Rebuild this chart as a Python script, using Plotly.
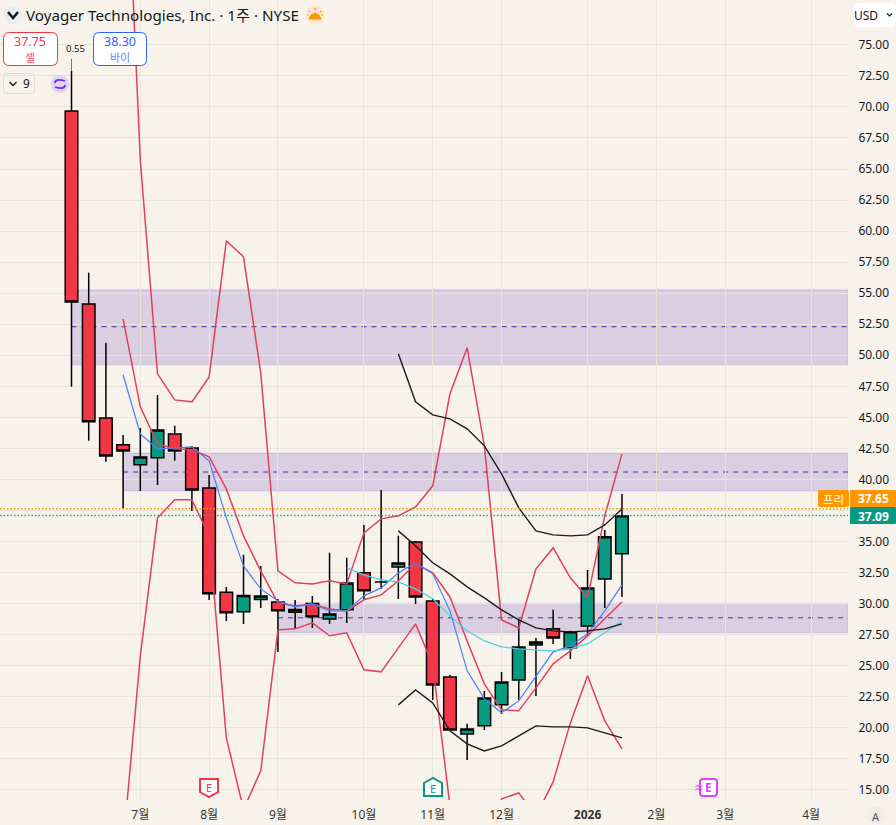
import plotly.graph_objects as go

# weekly candles, prices
weeks = list(range(33))
opens = [69.68, 54.14, 44.96, 42.79, 41.18, 41.74, 43.67, 42.54, 39.32, 30.91, 29.34,
         30.34, 30.14, 29.30, 30.02, 28.77, 29.50, 32.48, 31.75, 32.96, 34.97, 30.22,
         24.10, 19.51, 20.16, 21.85, 23.86, 26.68, 27.97, 26.44, 28.21, 31.99, 34.01]
highs = [72.90, 56.64, 51.00, 43.59, 44.15, 46.81, 44.32, 42.70, 40.37, 31.35, 33.93,
         33.04, 30.38, 30.30, 30.62, 34.09, 33.69, 36.34, 39.16, 35.46, 35.05, 30.38,
         24.26, 20.32, 22.97, 24.50, 28.77, 27.24, 29.50, 27.81, 32.72, 35.94, 38.84]
lows = [47.46, 43.11, 41.42, 37.63, 39.08, 39.56, 41.50, 37.47, 30.30, 28.61, 28.37,
        29.66, 26.11, 28.05, 28.05, 28.37, 28.45, 30.38, 31.19, 30.38, 29.98, 22.25,
        19.80, 17.42, 19.83, 21.12, 22.25, 22.57, 26.76, 25.55, 27.40, 29.66, 30.54]
closes = [54.30, 44.64, 41.90, 42.30, 41.82, 43.99, 42.30, 39.16, 30.79, 29.26, 30.66,
          30.62, 29.42, 29.54, 28.94, 29.17, 31.67, 31.03, 31.75, 33.28, 30.54, 23.46,
          19.83, 19.91, 22.41, 23.70, 26.52, 26.92, 27.24, 27.73, 31.27, 35.38, 37.07]

# indicator lines
red_upper = [97.06, 65.66, 48.51, 46.41, 46.25, 48.26, 59.22, 57.93, 48.59, 32.64, 31.68,
             31.59, 31.84, 31.59, 35.70, 36.83, 37.07, 37.79, 39.49, 46.90, 50.60, 42.71,
             28.69, 28.05, 32.80, 34.49, 32.08, 30.47, 37.07, 42.06]
red_lower = [10.50, 25.80, 36.91, 38.36, 38.36, 35.46, 19.19, 13.43, 16.54, 27.89, 27.97,
             28.45, 27.41, 27.65, 24.67, 24.51, 26.44, 28.37, 25.07, 13.72, 9.29, 11.70,
             14.28, 14.76, 12.91, 15.65, 20.40, 24.19, 20.56, 18.31]
red_mid = [52.93, 45.85, 42.87, 42.47, 42.39, 41.82, 39.24, 35.46, 32.64, 30.06, 29.82,
           29.98, 29.58, 29.42, 30.31, 30.71, 31.84, 33.21, 32.48, 30.54, 27.00, 23.54,
           21.45, 21.37, 23.22, 25.15, 26.20, 27.41, 28.78, 30.14]
blue_line = [48.43, 43.67, 42.47, 42.54, 42.63, 41.50, 36.91, 33.04, 31.19, 30.22, 29.74,
             29.98, 29.42, 29.42, 30.63, 31.27, 32.48, 33.29, 32.40, 29.42, 24.59, 22.33,
             21.21, 22.17, 24.19, 26.12, 26.60, 27.57, 29.42, 31.51]
cyan_line = [32.88, 32.32, 31.92, 31.75, 31.19, 30.39, 29.02, 27.81, 27.00, 26.52, 26.36,
             26.28, 26.20, 26.36, 26.76, 27.65, 28.61]
black_upper = [50.12, 46.25, 45.20, 44.88, 44.08, 42.71, 40.45, 37.71, 35.86, 35.54, 35.46,
               35.54, 36.34, 37.63]
black_mid = [35.86, 34.66, 33.29, 32.40, 31.35, 30.47, 29.50, 28.69, 28.05, 27.81, 27.73,
             27.81, 27.97, 28.37]
black_lower = [21.85, 23.06, 22.01, 19.76, 18.71, 18.14, 18.55, 19.35, 20.16, 20.08, 20.08,
               20.00, 19.59, 19.19]

# supply/demand zones: start week, top, bottom, dashed mid level
zone_starts = [0, 3, 12]
zone_tops = [55.27, 42.14, 30.06]
zone_bottoms = [49.23, 39.08, 27.65]
zone_mids = [52.30, 40.60, 28.86]

month_weeks = [4, 8, 12, 17, 21, 25, 30, 34, 38, 43]
month_labels = ["7월", "8월", "9월", "10월", "11월", "12월", "<b>2026</b>", "2월", "3월", "4월"]
price_ticks = [15 + 2.5 * i for i in range(25)]
# 37.50 sits under the price tags in the reference
price_labels = ["" if p == 37.5 else "%.2f" % p for p in price_ticks]

sell_price = 37.75
buy_price = 38.30
pre_price = 37.65
last_price = 37.09

BG = "#F7F3EB"
RED = "#E2405F"
CANDLE_RED = "#F23645"
GREEN = "#089981"
ORANGE = "#FF9800"
FONT = "Noto Sans, Noto Sans CJK KR, sans-serif"
PLOT_W = 848
PLOT_H = 800
X_RANGE = [-4.157, 45.14]
Y_RANGE = [14.19, 78.61]


def px(x):
    return x / PLOT_W


def py(y):
    return 1 - y / PLOT_H


def p_path(points, close=True):
    cmds = ["%s%.5f,%.5f" % ("M" if i == 0 else "L", px(x), py(y)) for i, (x, y) in enumerate(points)]
    return " ".join(cmds) + (" Z" if close else "")


def round_box(x0, y0, x1, y1, r, fill, line=None, width=1):
    # rounded rectangle in screen pixels
    k = [
        "M%.5f,%.5f" % (px(x0 + r), py(y0)),
        "L%.5f,%.5f" % (px(x1 - r), py(y0)),
        "Q%.5f,%.5f %.5f,%.5f" % (px(x1), py(y0), px(x1), py(y0 + r)),
        "L%.5f,%.5f" % (px(x1), py(y1 - r)),
        "Q%.5f,%.5f %.5f,%.5f" % (px(x1), py(y1), px(x1 - r), py(y1)),
        "L%.5f,%.5f" % (px(x0 + r), py(y1)),
        "Q%.5f,%.5f %.5f,%.5f" % (px(x0), py(y1), px(x0), py(y1 - r)),
        "L%.5f,%.5f" % (px(x0), py(y0 + r)),
        "Q%.5f,%.5f %.5f,%.5f" % (px(x0), py(y0), px(x0 + r), py(y0)),
        "Z",
    ]
    return dict(type="path", path=" ".join(k), xref="paper", yref="paper", fillcolor=fill,
                line=dict(color=line if line else fill, width=width if line else 0), layer="above")


def poly(points, fill, line, width=2, close=True):
    return dict(type="path", path=p_path(points, close), xref="paper", yref="paper",
                fillcolor=fill if close else "rgba(0,0,0,0)",
                line=dict(color=line, width=width), layer="above")


def circle(cx, cy, r, fill):
    return round_box(cx - r, cy - r, cx + r, cy + r, r, fill)


def label(x, y, text, size=12, color="#131722", anchor="center", weight=None):
    if weight:
        text = "<b>%s</b>" % text
    return dict(x=px(x), y=py(y), xref="paper", yref="paper", text=text, showarrow=False,
                xanchor=anchor, yanchor="middle", font=dict(family=FONT, size=size, color=color),
                borderpad=0, borderwidth=0)


fig = go.Figure()

line_specs = [
    (3, red_upper, RED, 1.5),
    (3, red_lower, RED, 1.5),
    (3, red_mid, RED, 1.5),
    (3, blue_line, "#4A7FF5", 1.2),
    (16, cyan_line, "#4DD0E1", 1.2),
    (19, black_upper, "#1C1C1C", 1.4),
    (19, black_mid, "#1C1C1C", 1.4),
    (19, black_lower, "#1C1C1C", 1.4),
]
for start, values, color, width in line_specs:
    fig.add_trace(go.Scatter(x=weeks[start:], y=values, mode="lines", line=dict(color=color, width=width),
                             showlegend=False, hoverinfo="skip"))

# gray leader above the first candle
fig.add_trace(go.Scatter(x=[0, 0], y=[73.87, highs[0]], mode="lines", line=dict(color="#777777", width=1),
                         showlegend=False, hoverinfo="skip"))

fig.add_trace(go.Candlestick(
    x=weeks, open=opens, high=highs, low=lows, close=closes,
    increasing=dict(fillcolor=GREEN, line=dict(color="#000000", width=1.5)),
    decreasing=dict(fillcolor=CANDLE_RED, line=dict(color="#000000", width=1.5)),
    whiskerwidth=0, showlegend=False, hoverinfo="skip",
))

shapes = []
for start, top, bottom, mid in zip(zone_starts, zone_tops, zone_bottoms, zone_mids):
    shapes.append(dict(type="rect", xref="x", yref="y", x0=start, x1=X_RANGE[1], y0=bottom, y1=top,
                       fillcolor="rgba(103,58,183,0.2)", line=dict(color="rgba(130,110,240,0.12)", width=2),
                       layer="below"))
    shapes.append(dict(type="line", xref="x", yref="y", x0=start, x1=X_RANGE[1], y0=mid, y1=mid,
                       line=dict(color="#4E2BA6", width=1, dash="5px,5px"), layer="below"))

for price, color in [(pre_price, ORANGE), (last_price, "#0FA88E")]:
    shapes.append(dict(type="line", xref="paper", yref="y", x0=0, x1=1, y0=price, y1=price,
                       line=dict(color=color, width=1.5, dash="1.5px,2px"), layer="above"))

# header controls
shapes += [
    circle(13, 15, 9, "#E9ECF2"),
    poly([(8, 12), (13, 18), (18, 12)], "rgba(0,0,0,0)", "#131722", 2.5, close=False),
    circle(315, 15, 9, "#FDE6CF"),
    poly([(309, 19), (311, 15), (315, 13), (319, 15), (321, 19)], ORANGE, ORANGE, 1),
    poly([(315, 8), (315, 10)], ORANGE, ORANGE, 1.5, close=False),
    poly([(309, 11), (310, 12)], ORANGE, ORANGE, 1.5, close=False),
    poly([(321, 11), (320, 12)], ORANGE, ORANGE, 1.5, close=False),
    poly([(307, 15), (308, 15)], ORANGE, ORANGE, 1.5, close=False),
    poly([(322, 15), (323, 15)], ORANGE, ORANGE, 1.5, close=False),
    round_box(3.5, 32.5, 57.5, 65.5, 6, "#FFFFFF", CANDLE_RED, 1),
    round_box(93.5, 32.5, 146.5, 65.5, 6, "#FFFFFF", "#2962FF", 1),
    round_box(3.5, 73.5, 34.5, 93.5, 3, "rgba(0,0,0,0)", "#E0DDD5", 1),
    poly([(9.5, 82), (13, 85.5), (16.5, 82)], "rgba(0,0,0,0)", "#131722", 1.3, close=False),
    circle(60, 84, 9, "#E1D5F5"),
    dict(type="path", xref="paper", yref="paper", layer="above", line=dict(color="#6D2FEF", width=1.8),
         path="M%.5f,%.5f Q%.5f,%.5f %.5f,%.5f" % (px(54.5), py(83), px(56), py(78), px(65), py(81))),
    dict(type="path", xref="paper", yref="paper", layer="above", line=dict(color="#6D2FEF", width=1.8),
         path="M%.5f,%.5f Q%.5f,%.5f %.5f,%.5f" % (px(65.5), py(85), px(64), py(90), px(55), py(87))),
    round_box(854, 3, 896, 27, 5, "#FFFFFF"),
    poly([(887, 13.5), (889.5, 16), (892, 13.5)], "rgba(0,0,0,0)", "#131722", 1.2, close=False),
    circle(876, 815, 9, "#EFECE4"),
    # price tags on the axis
    round_box(818, 490, 849, 507, 2, ORANGE),
    round_box(850, 490, 896, 507, 1, ORANGE),
    round_box(850, 507, 896, 524, 1, GREEN),
    # earnings markers
    poly([(200, 779), (218, 779), (218, 792), (209, 797), (200, 792)], "#FFFFFF", CANDLE_RED, 2),
    poly([(424, 783), (433, 778), (442, 783), (442, 796), (424, 796)], "#FFFFFF", GREEN, 2),
    round_box(700, 779, 717, 796, 3, "#FFFFFF", "#E040FB", 2),
]

annotations = [
    label(26, 15, "Voyager Technologies, Inc. · 1주 · NYSE", 15.2, "#131722", "left"),
    label(30, 41.5, "%.2f" % sell_price, 12.5, CANDLE_RED),
    label(30, 57, "셀", 11, "#F7525F"),
    label(120, 41.5, "%.2f" % buy_price, 12.5, "#2962FF"),
    label(120, 57, "바이", 11, "#5B8CFF"),
    label(75, 48, "0.55", 9.5, "#131722"),
    label(26, 83, "9", 12, "#131722"),
    label(866, 15, "USD", 12, "#131722"),
    label(876, 816, "A", 11, "#555555"),
    label(833, 499, "프리", 11.5, "#FFFFFF"),
    label(873, 498.5, "%.2f" % pre_price, 12, "#FFFFFF", weight=True),
    label(873, 516, "%.2f" % last_price, 12, "#FFFFFF", weight=True),
    label(209, 787.5, "E", 11, CANDLE_RED),
    label(433, 788, "E", 11, GREEN),
    label(708.5, 787.5, "E", 12, "#E040FB", weight=True),
    label(699, 787.5, "≈", 10, "#E040FB"),
]

fig.update_layout(
    width=896, height=825,
    margin=dict(l=0, r=48, t=0, b=25),
    paper_bgcolor=BG, plot_bgcolor=BG,
    showlegend=False,
    boxgap=0.27, boxgroupgap=0.0,
    shapes=shapes, annotations=annotations,
    font=dict(family=FONT, size=12, color="#131722"),
    xaxis=dict(
        range=X_RANGE, type="linear", rangeslider=dict(visible=False),
        tickmode="array", tickvals=month_weeks, ticktext=month_labels,
        showgrid=True, gridcolor="#E9E5DC", gridwidth=1, zeroline=False, showline=False,
        ticks="outside", ticklen=4, tickcolor="rgba(0,0,0,0)", tickfont=dict(family=FONT, size=12, color="#333333"),
    ),
    yaxis=dict(
        range=Y_RANGE, side="right", tickmode="array", tickvals=price_ticks, ticktext=price_labels,
        showgrid=True, gridcolor="#E9E5DC", gridwidth=1, zeroline=False, showline=False,
        ticks="outside", ticklen=7, tickcolor="rgba(0,0,0,0)", tickfont=dict(family=FONT, size=12, color="#131722"),
    ),
)

fig.write_html("out.html", config={"displayModeBar": False},
               post_script="document.body.style.margin='0';document.body.style.background='%s';" % BG)
